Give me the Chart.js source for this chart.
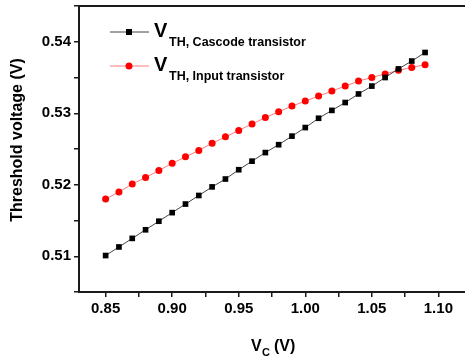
<!DOCTYPE html>
<html>
<head>
<meta charset="utf-8">
<script src="https://cdn.jsdelivr.net/npm/chart.js@4/dist/chart.umd.min.js"></script>
<style>
  html, body { margin: 0; padding: 0; background: #fff; }
  #wrap { width: 465px; height: 360px; }
</style>
</head>
<body>
<div id="wrap"><canvas id="myChart" width="465" height="360"></canvas></div>
<script>
// control voltage sweep (V)
var vc = [0.85, 0.86, 0.87, 0.88, 0.89, 0.90, 0.91, 0.92, 0.93, 0.94, 0.95, 0.96,
          0.97, 0.98, 0.99, 1.00, 1.01, 1.02, 1.03, 1.04, 1.05, 1.06, 1.07, 1.08, 1.09];
// threshold voltage of the cascode transistor (V)
var vthCascode = [0.5101, 0.5113, 0.5125, 0.5137, 0.5149, 0.5161, 0.5173, 0.5185, 0.5197,
                  0.5208, 0.5221, 0.5233, 0.5245, 0.5256, 0.5268, 0.5280, 0.5293, 0.5304,
                  0.5315, 0.5327, 0.5338, 0.5350, 0.5362, 0.5373, 0.5385];
// threshold voltage of the input transistor (V)
var vthInput = [0.5180, 0.5190, 0.5201, 0.5210, 0.5220, 0.5230, 0.5239, 0.5248, 0.5258,
                0.5267, 0.5276, 0.5285, 0.5294, 0.5302, 0.5310, 0.5317, 0.5324, 0.5331,
                0.5338, 0.5345, 0.5350, 0.5355, 0.5360, 0.5364, 0.5368];

var xTickLabels = ['0.85', '0.90', '0.95', '1.00', '1.05', '1.10'];
var xMinorTicks = ['0.875', '0.925', '0.975', '1.025', '1.075'];
var yTickLabels = ['0.51', '0.52', '0.53', '0.54'];
var yMinorTicks = ['0.505', '0.515', '0.525', '0.535', '0.545'];

var seriesNames = ['Cascode transistor', 'Input transistor'];

var FONT = '"Liberation Sans", Arial, sans-serif';
var AXIS = '#1a1a1a';

function tickList(major, minor) {
  return major.concat(minor).map(Number).sort(function (a, b) { return a - b; })
    .map(function (v) { return { value: v }; });
}

function pairs(ys) {
  return vc.map(function (x, i) { return { x: x, y: ys[i] }; });
}

function majorOnly(list) {
  return function (v) {
    var t = v.toFixed(2);
    return list.indexOf(t) >= 0 && Math.abs(v - Number(t)) < 1e-9 ? t : '';
  };
}

// frame, axis titles and the subscripted legend
var decorations = {
  id: 'decorations',
  afterDraw: function (chart) {
    var ctx = chart.ctx;
    var a = chart.chartArea;
    ctx.save();
    ctx.strokeStyle = AXIS;
    ctx.lineWidth = 2;
    ctx.beginPath();
    ctx.moveTo(a.left, a.top);
    ctx.lineTo(a.right + 2, a.top);
    ctx.stroke();

    ctx.fillStyle = '#000';
    // y title
    ctx.save();
    ctx.translate(18, 140);
    ctx.rotate(-Math.PI / 2);
    ctx.font = 'bold 16px ' + FONT;
    ctx.textAlign = 'center';
    ctx.textBaseline = 'middle';
    ctx.fillText('Threshold voltage (V)', 0, 0);
    ctx.restore();

    // x title: V_C (V)
    ctx.textBaseline = 'alphabetic';
    ctx.textAlign = 'left';
    ctx.font = 'bold 16px ' + FONT;
    ctx.fillText('V', 251, 351);
    ctx.font = 'bold 11px ' + FONT;
    ctx.fillText('C', 262, 356);
    ctx.font = 'bold 16px ' + FONT;
    ctx.fillText('(V)', 274, 351);

    // legend
    var rows = [
      { y: 32, color: '#000', line: '#444', style: 'rect', sub: 'TH, ' + seriesNames[0] },
      { y: 66, color: '#ff0000', line: '#ff7a7a', style: 'circle', sub: 'TH, ' + seriesNames[1] }
    ];
    rows.forEach(function (r) {
      ctx.strokeStyle = r.line;
      ctx.lineWidth = 1;
      ctx.beginPath();
      ctx.moveTo(110, r.y);
      ctx.lineTo(149, r.y);
      ctx.stroke();
      ctx.fillStyle = r.color;
      if (r.style === 'rect') {
        ctx.fillRect(126, r.y - 3, 6, 6);
      } else {
        ctx.beginPath();
        ctx.arc(129, r.y, 3.5, 0, Math.PI * 2);
        ctx.fill();
      }
      ctx.fillStyle = '#000';
      ctx.font = 'bold 20px ' + FONT;
      ctx.fillText('V', 154, r.y + 5);
      ctx.font = 'bold 12.5px ' + FONT;
      ctx.fillText(r.sub, 169, r.y + 14);
    });
    ctx.restore();
  }
};

var ctx = document.getElementById('myChart').getContext('2d');
var myChart = new Chart(ctx, {
  type: 'scatter',
  data: {
    datasets: [{
      label: seriesNames[0],
      data: pairs(vthCascode),
      showLine: true,
      borderColor: '#444',
      borderWidth: 1,
      pointStyle: 'rect',
      pointRadius: 4,
      pointBackgroundColor: '#000',
      pointBorderWidth: 0
    }, {
      label: seriesNames[1],
      data: pairs(vthInput),
      showLine: true,
      borderColor: '#ff7a7a',
      borderWidth: 1,
      pointStyle: 'circle',
      pointRadius: 3.5,
      pointBackgroundColor: '#ff0000',
      pointBorderWidth: 0
    }]
  },
  options: {
    responsive: false,
    animation: false,
    layout: { autoPadding: false, padding: { top: 6, right: 0, left: 0, bottom: 0 } },
    plugins: { legend: { display: false }, tooltip: { enabled: false } },
    scales: {
      x: {
        type: 'linear',
        min: 0.83,
        max: 1.12,
        afterBuildTicks: function (s) { s.ticks = tickList(xTickLabels, xMinorTicks); },
        afterFit: function (s) { s.height = 68; s.paddingRight = 0; s.paddingLeft = 0; },
        grid: { drawOnChartArea: false, drawTicks: true, tickLength: 5, color: AXIS, lineWidth: 1.5 },
        border: { display: true, color: AXIS, width: 2 },
        ticks: {
          autoSkip: false,
          maxRotation: 0,
          padding: 3,
          color: '#000',
          font: { family: FONT, size: 15, weight: 'bold' },
          callback: majorOnly(xTickLabels)
        }
      },
      y: {
        type: 'linear',
        min: 0.505,
        max: 0.545,
        afterBuildTicks: function (s) { s.ticks = tickList(yTickLabels, yMinorTicks); },
        afterFit: function (s) { s.width = 79; s.paddingTop = 0; s.paddingBottom = 0; },
        grid: { drawOnChartArea: false, drawTicks: true, tickLength: 5, color: AXIS, lineWidth: 1.5 },
        border: { display: true, color: AXIS, width: 2 },
        ticks: {
          autoSkip: false,
          padding: 3,
          color: '#000',
          font: { family: FONT, size: 15, weight: 'bold' },
          callback: majorOnly(yTickLabels)
        }
      }
    }
  },
  plugins: [decorations]
});
</script>
</body>
</html>
